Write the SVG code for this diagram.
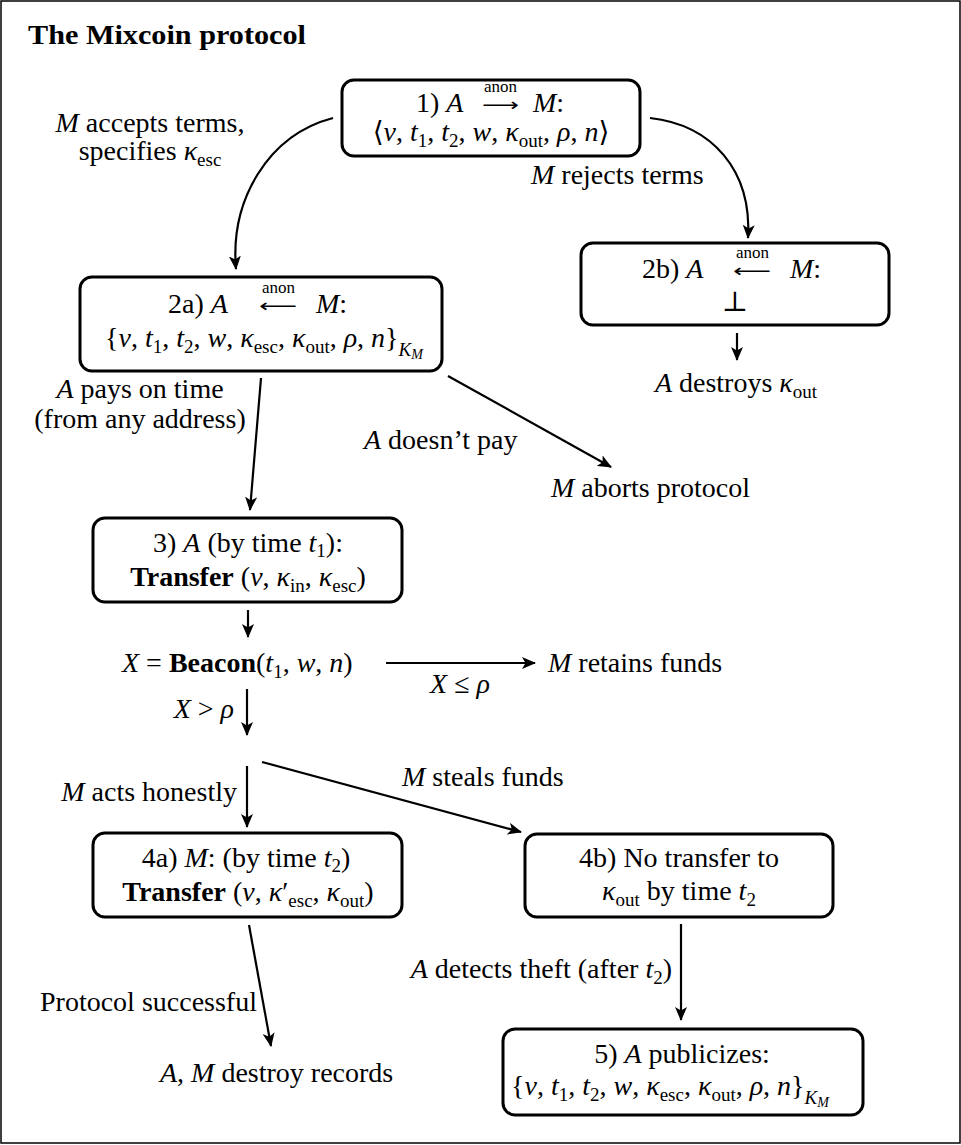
<svg xmlns="http://www.w3.org/2000/svg" width="961" height="1145" viewBox="0 0 961 1145">
<style>
.t{font-family:"Liberation Serif","DejaVu Serif","DejaVu Sans",serif;font-size:28px;fill:#000}
.m{text-anchor:middle}
.e{text-anchor:end}
.i{font-style:italic}
.b{font-weight:bold}
.s{font-size:19px}
.ss{font-size:14px}
.an{font-size:17px}
.ar{font-family:"DejaVu Sans",sans-serif;font-size:18px}
.box{fill:#fff;stroke:#000;stroke-width:3}
.edge{fill:none;stroke:#000;stroke-width:2.2;marker-end:url(#ah)}
</style>
<defs>
<marker id="ah" markerUnits="userSpaceOnUse" markerWidth="14" markerHeight="12" viewBox="0 0 14 12" refX="13" refY="6" orient="auto">
<path d="M0,0 L14,6 L0,12 L3.5,6 z" fill="#000"/>
</marker>
</defs>
<rect x="1" y="1" width="959" height="1142" fill="#fff" stroke="#000" stroke-width="1.5"/>
<text class="t b" x="28" y="44" font-size="27" textLength="278" lengthAdjust="spacingAndGlyphs">The Mixcoin protocol</text>

<g id="connectors">
<path id="c1" class="edge" d="M333,118 C268,135 230,200 236,269"/>
<path id="c2" class="edge" d="M650,118 C712,125 752,170 748,238"/>
<path id="c3" class="edge" d="M737,333 L737,360"/>
<path id="c4" class="edge" d="M261,378 L250,510"/>
<path id="c5" class="edge" d="M448,376 L611,467"/>
<path id="c6" class="edge" d="M248,610 L248,637"/>
<path id="c7" class="edge" d="M386,663 L535,663"/>
<path id="c8" class="edge" d="M247,689 L247,735"/>
<path id="c9" class="edge" d="M247,766 L247,827"/>
<path id="c10" class="edge" d="M262,762 L521,832"/>
<path id="c11" class="edge" d="M681,924 L681,1020"/>
<path id="c12" class="edge" d="M249,925 L271,1046"/>
</g>

<g id="labels">
<text class="t m" x="150" y="132"><tspan class="i">M</tspan> accepts terms,</text>
<text class="t m" x="150" y="160">specifies <tspan class="i">κ</tspan><tspan class="s" dy="6">esc</tspan></text>
<text class="t" x="531" y="184"><tspan class="i">M</tspan> rejects terms</text>
<text class="t m" x="140" y="398"><tspan class="i">A</tspan> pays on time</text>
<text class="t m" x="140" y="428">(from any address)</text>
<text class="t" x="364" y="449"><tspan class="i">A</tspan> doesn’t pay</text>
<text class="t m" x="460" y="693"><tspan class="i">X</tspan> ≤ <tspan class="i">ρ</tspan></text>
<text class="t e" x="234" y="718"><tspan class="i">X</tspan> &gt; <tspan class="i">ρ</tspan></text>
<text class="t e" x="237" y="801"><tspan class="i">M</tspan> acts honestly</text>
<text class="t" x="402" y="786"><tspan class="i">M</tspan> steals funds</text>
<text class="t e" x="672" y="978"><tspan class="i">A</tspan> detects theft (after <tspan class="i">t</tspan><tspan class="s" dy="6">2</tspan><tspan dy="-6">)</tspan></text>
<text class="t" x="40" y="1011">Protocol successful</text>
</g>

<g id="n1">
<rect class="box" x="342" y="80" width="298" height="76" rx="12"/>
<text class="t" y="112"><tspan x="416">1) </tspan><tspan class="i">A</tspan><tspan class="an" x="484" y="92">anon</tspan><tspan class="ar" x="482" y="111" textLength="37" lengthAdjust="spacingAndGlyphs">⟶</tspan><tspan class="i" x="533" y="112">M</tspan>:</text>
<text class="t m" x="491" y="141">⟨<tspan class="i">v</tspan>, <tspan class="i">t</tspan><tspan class="s" dy="6">1</tspan><tspan dy="-6">, </tspan><tspan class="i">t</tspan><tspan class="s" dy="6">2</tspan><tspan dy="-6">, </tspan><tspan class="i">w</tspan>, <tspan class="i">κ</tspan><tspan class="s" dy="6">out</tspan><tspan dy="-6">, </tspan><tspan class="i">ρ</tspan>, <tspan class="i">n</tspan>⟩</text>
</g>

<g id="n2a">
<rect class="box" x="80" y="277" width="362" height="94" rx="12"/>
<text class="t" y="313"><tspan x="168">2a) </tspan><tspan class="i">A</tspan><tspan class="an" x="262" y="293">anon</tspan><tspan class="ar" x="259" y="312" textLength="38" lengthAdjust="spacingAndGlyphs">⟵</tspan><tspan class="i" x="316" y="313">M</tspan>:</text>
<text class="t m" x="264" y="347">{<tspan class="i">v</tspan>, <tspan class="i">t</tspan><tspan class="s" dy="6">1</tspan><tspan dy="-6">, </tspan><tspan class="i">t</tspan><tspan class="s" dy="6">2</tspan><tspan dy="-6">, </tspan><tspan class="i">w</tspan>, <tspan class="i">κ</tspan><tspan class="s" dy="6">esc</tspan><tspan dy="-6">, </tspan><tspan class="i">κ</tspan><tspan class="s" dy="6">out</tspan><tspan dy="-6">, </tspan><tspan class="i">ρ</tspan>, <tspan class="i">n</tspan>}<tspan class="s i" dy="9">K</tspan><tspan class="ss i" dy="3">M</tspan></text>
</g>

<g id="n2b">
<rect class="box" x="581" y="243" width="308" height="82" rx="12"/>
<text class="t" y="278"><tspan x="642">2b) </tspan><tspan class="i">A</tspan><tspan class="an" x="736" y="258">anon</tspan><tspan class="ar" x="733" y="277" textLength="38" lengthAdjust="spacingAndGlyphs">⟵</tspan><tspan class="i" x="790" y="278">M</tspan>:</text>
<text class="t m" x="735" y="311">⊥</text>
</g>

<g id="n2bout">
<text class="t m" x="736" y="392"><tspan class="i">A</tspan> destroys <tspan class="i">κ</tspan><tspan class="s" dy="6">out</tspan></text>
</g>

<g id="nabort">
<text class="t" x="551" y="497"><tspan class="i">M</tspan> aborts protocol</text>
</g>

<g id="n3">
<rect class="box" x="93" y="518" width="309" height="84" rx="12"/>
<text class="t m" x="248" y="552">3) <tspan class="i">A</tspan> (by time <tspan class="i">t</tspan><tspan class="s" dy="5">1</tspan><tspan dy="-5">):</tspan></text>
<text class="t m" x="248" y="586"><tspan class="b">Transfer</tspan> (<tspan class="i">v</tspan>, <tspan class="i">κ</tspan><tspan class="s" dy="6">in</tspan><tspan dy="-6">, </tspan><tspan class="i">κ</tspan><tspan class="s" dy="6">esc</tspan><tspan dy="-6">)</tspan></text>
</g>

<g id="nbeacon">
<text class="t" x="122" y="672"><tspan class="i">X</tspan> = <tspan class="b">Beacon</tspan>(<tspan class="i">t</tspan><tspan class="s" dy="6">1</tspan><tspan dy="-6">, </tspan><tspan class="i">w</tspan>, <tspan class="i">n</tspan>)</text>
</g>

<g id="nretain">
<text class="t" x="548" y="672"><tspan class="i">M</tspan> retains funds</text>
</g>

<g id="n4a">
<rect class="box" x="93" y="833" width="309" height="84" rx="12"/>
<text class="t m" x="246" y="867">4a) <tspan class="i">M</tspan>: (by time <tspan class="i">t</tspan><tspan class="s" dy="5">2</tspan><tspan dy="-5">)</tspan></text>
<text class="t m" x="248" y="901"><tspan class="b">Transfer</tspan> (<tspan class="i">v</tspan>, <tspan class="i">κ</tspan>′<tspan class="s" dy="6">esc</tspan><tspan dy="-6">, </tspan><tspan class="i">κ</tspan><tspan class="s" dy="6">out</tspan><tspan dy="-6">)</tspan></text>
</g>

<g id="n4b">
<rect class="box" x="525" y="834" width="308" height="83" rx="12"/>
<text class="t m" x="679" y="867">4b) No transfer to</text>
<text class="t m" x="679" y="900"><tspan class="i">κ</tspan><tspan class="s" dy="6">out</tspan><tspan dy="-6"> by time </tspan><tspan class="i">t</tspan><tspan class="s" dy="6">2</tspan></text>
</g>

<g id="ndestroy">
<text class="t" x="160" y="1082"><tspan class="i">A</tspan>, <tspan class="i">M</tspan> destroy records</text>
</g>

<g id="n5">
<rect class="box" x="503" y="1029" width="360" height="86" rx="12"/>
<text class="t m" x="682" y="1063">5) <tspan class="i">A</tspan> publicizes:</text>
<text class="t m" x="670" y="1095">{<tspan class="i">v</tspan>, <tspan class="i">t</tspan><tspan class="s" dy="6">1</tspan><tspan dy="-6">, </tspan><tspan class="i">t</tspan><tspan class="s" dy="6">2</tspan><tspan dy="-6">, </tspan><tspan class="i">w</tspan>, <tspan class="i">κ</tspan><tspan class="s" dy="6">esc</tspan><tspan dy="-6">, </tspan><tspan class="i">κ</tspan><tspan class="s" dy="6">out</tspan><tspan dy="-6">, </tspan><tspan class="i">ρ</tspan>, <tspan class="i">n</tspan>}<tspan class="s i" dy="9">K</tspan><tspan class="ss i" dy="3">M</tspan></text>
</g>
</svg>
